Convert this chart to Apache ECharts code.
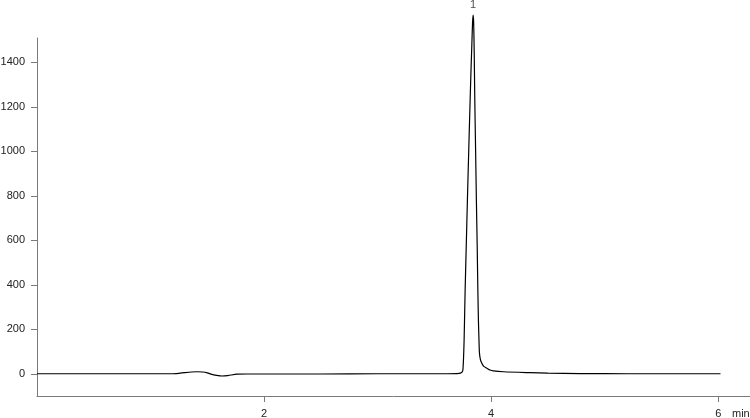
<!DOCTYPE html>
<html>
<head>
<meta charset="utf-8">
<script src="https://cdn.jsdelivr.net/npm/echarts@6/dist/echarts.min.js"></script>
<style>
html,body{margin:0;padding:0;background:#fff;}
#chart{width:750px;height:418px;}
</style>
</head>
<body>
<div id="chart"></div>
<script>
// Retention time (min)
const times = [0, 1.15, 1.23, 1.30, 1.36, 1.41, 1.46, 1.50, 1.54, 1.58, 1.63, 1.68, 1.76, 1.85, 2.5, 3.0, 3.5, 3.70, 3.73, 3.745, 3.751, 3.756, 3.762, 3.771, 3.781, 3.791, 3.803, 3.815, 3.823, 3.830, 3.836, 3.841, 3.846, 3.851, 3.856, 3.863, 3.870, 3.877, 3.883, 3.888, 3.893, 3.897, 3.905, 3.918, 3.935, 3.962, 3.990, 4.02, 4.108, 4.344, 4.50, 4.78, 5.2, 6.02];
// Detector signal
const signal = [0, 0, 1, 5, 8, 9, 8, 4, -3, -7, -10, -8, -2, -1, -1, 0, 0, 1, 3, 8, 17, 60, 152, 377, 580, 781, 1010, 1231, 1370, 1480, 1575, 1613, 1580, 1440, 1231, 1010, 781, 580, 377, 240, 150, 94, 65, 47, 33, 25, 17, 13, 9, 5, 3, 1, 0, 0];
// Peak annotations
const peakNames = ['1'];
const peakTimes = [3.841];
const peakHeights = [1613];
// Tick labels
const xTicks = [2, 4, 6];
const yTicks = [0, 200, 400, 600, 800, 1000, 1200, 1400];
const xUnit = 'min';

const FONT = 'Liberation Sans, Arial, Helvetica, sans-serif';
const AXIS = '#7a7a7a';
const TEXT = '#222';

const chart = echarts.init(document.getElementById('chart'), null, {renderer: 'canvas'});
chart.setOption({
  animation: false,
  backgroundColor: '#fff',
  grid: {left: 37, right: 0, top: 38, bottom: 22, containLabel: false, outerBoundsMode: 'none'},
  xAxis: {
    type: 'value', min: 0, max: 6.28,
    axisLine: {show: true, onZero: false, lineStyle: {color: AXIS, width: 1}},
    axisTick: {show: true, length: 6, customValues: xTicks, lineStyle: {color: AXIS}},
    splitLine: {show: false},
    axisLabel: {
      margin: 12, color: TEXT, fontSize: 11, fontFamily: FONT,
      customValues: xTicks, formatter: v => String(v)
    }
  },
  yAxis: {
    type: 'value', min: -100, max: 1510,
    axisLine: {show: true, onZero: false, lineStyle: {color: AXIS, width: 1}},
    axisTick: {show: true, length: 6, customValues: yTicks, lineStyle: {color: AXIS}},
    splitLine: {show: false},
    axisLabel: {
      margin: 12, color: TEXT, fontSize: 11, fontFamily: FONT,
      customValues: yTicks, formatter: v => String(v)
    }
  },
  graphic: [{
    type: 'text', left: 732, top: 408,
    style: {text: xUnit, fill: TEXT, font: '11px ' + FONT}
  }],
  series: [{
    type: 'line',
    data: times.map((t, i) => [t, signal[i]]),
    showSymbol: false,
    symbol: 'none',
    smooth: 0.25,
    clip: false,
    lineStyle: {color: '#000', width: 1.2},
    z: 3
  }, {
    type: 'scatter',
    data: peakTimes.map((t, i) => ({value: [t, peakHeights[i]], name: peakNames[i]})),
    symbolSize: 1,
    itemStyle: {color: 'rgba(0,0,0,0)'},
    clip: false,
    label: {
      show: true, position: 'top', distance: 4,
      formatter: p => p.name, color: TEXT, fontSize: 11, fontFamily: FONT
    },
    silent: true
  }]
});
</script>
</body>
</html>
